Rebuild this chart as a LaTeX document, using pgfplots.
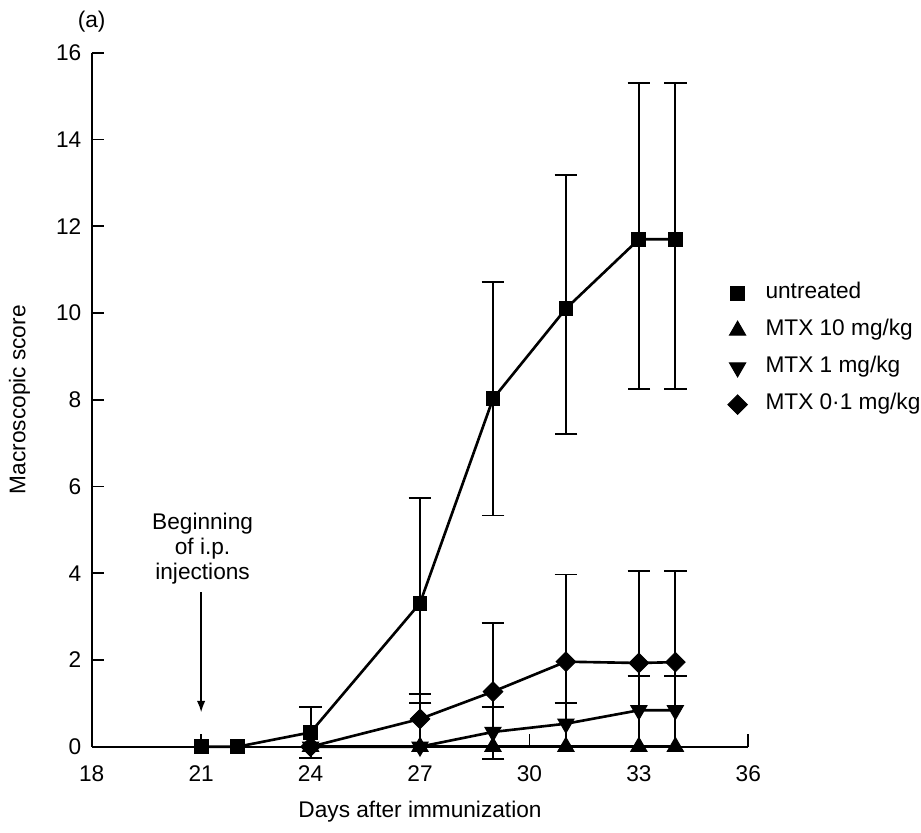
\documentclass[border=0pt]{standalone}
\usepackage{fontspec}
\setmainfont{Liberation Sans}
\usepackage{pgfplots}
\usepackage{pgfplotstable}
\pgfplotsset{compat=1.18}
\usetikzlibrary{arrows.meta}

% day, mean, error up, error down
\pgfplotstableread{
x y ep em
21 0 0 0
22 0 0 0
24 0.33 0.59 0.58
27 3.31 2.42 2.31
29 8.02 2.69 2.69
31 10.10 3.09 2.90
33 11.70 3.60 3.45
34 11.70 3.60 3.45
}\untreated
\pgfplotstableread{
x y
24 0
27 0
29 0
31 0
33 0
34 0
}\mtxten
\pgfplotstableread{
x y ep em
24 0 0 0
27 0 0 0
29 0.34 0.58 0.62
31 0.53 0.47 0.53
33 0.84 0.80 0.84
34 0.84 0.80 0.84
}\mtxone
\pgfplotstableread{
x y ep em
24 0 0 0
27 0.64 0.58 0.64
29 1.27 1.58 1.27
31 1.96 2.01 1.96
33 1.93 2.13 1.93
34 1.95 2.11 1.95
}\mtxpointone

\begin{document}
\begin{tikzpicture}[font=\fontsize{11.2}{13.4}\selectfont]
\path[use as bounding box] (-1.593,-1.482) rectangle (14.407,12.972);
\begin{axis}[
  at={(0,0)}, anchor=south west,
  scale only axis, width=11.407cm, height=12.056cm,
  xmin=18, xmax=36, ymin=0, ymax=16,
  axis lines*=left, clip=false,
  axis line style={line width=0.9pt},
  xtick={18,21,...,36}, ytick={0,2,...,16},
  tick align=inside, major tick length=0.22cm,
  every tick/.style={black, line width=0.9pt},
  xticklabel style={yshift=-6pt},
  yticklabel style={xshift=-1.6pt},
  /pgf/number format/assume math mode=true,
  xlabel={Days after immunization},
  ylabel={Macroscopic score},
  xlabel style={at={(axis description cs:0.5,-0.094)}, anchor=center},
  ylabel style={at={(axis description cs:-0.11,0.5)}, anchor=center},
  legend cell align=left,
  legend image code/.code={\path[#1] plot coordinates {(0cm,0cm)};},
  legend style={draw=none, fill=none, at={(rel axis cs:0.959,0.680)}, anchor=north west,
    row sep=0.152cm, column sep=7pt,
    nodes={inner sep=2pt, text height=0.75em, text depth=0.25em}},
  every axis plot/.append style={black, line width=1.3pt},
  errb/.style={error bars/.cd, y dir=both, y explicit,
    error bar style={line width=0.95pt, solid},
    error mark options={rotate=90, mark size=0.197cm, line width=0.95pt}},
]
\addplot[mark=square*, mark size=3.4pt, mark options={line width=0.5pt}, errb]
  table[x=x, y=y, y error plus=ep, y error minus=em] {\untreated};
\addlegendentry{untreated}
\addplot[mark=triangle*, mark size=4.6pt, mark options={line width=0.5pt}]
  table[x=x, y=y] {\mtxten};
\addlegendentry{MTX 10 mg/kg}
\addplot[mark=triangle*, mark size=4.6pt, mark options={line width=0.5pt, rotate=180}, errb]
  table[x=x, y=y, y error plus=ep, y error minus=em] {\mtxone};
\addlegendentry{MTX 1 mg/kg}
\addplot[mark=square*, mark size=3.4pt, mark options={line width=0.5pt, rotate=45}, errb]
  table[x=x, y=y, y error plus=ep, y error minus=em] {\mtxpointone};
\addlegendentry{MTX 0·1 mg/kg}

\node[align=center, inner sep=0pt, font=\fontsize{11.2}{12.4}\selectfont]
  at (axis cs:21.04,4.57) {Beginning\\of i.p.\\injections};
\draw[-{Latex[length=5.7pt,width=4.2pt]}, line width=0.95pt]
  (axis cs:21,3.56) -- (axis cs:21,0.79);
\node at (rel axis cs:0,1) [yshift=0.54cm] {(a)};
\end{axis}
\end{tikzpicture}
\end{document}
